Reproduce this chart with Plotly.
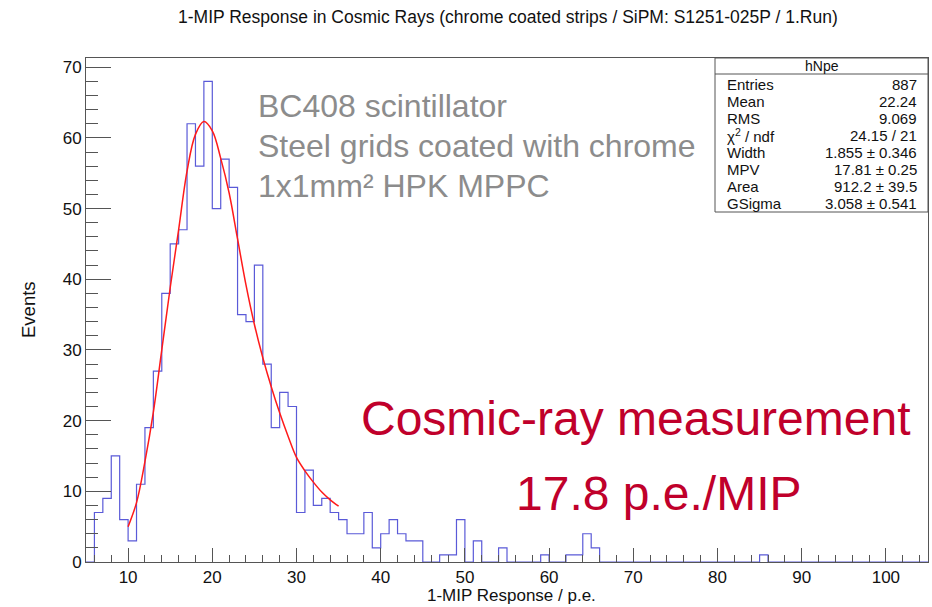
import plotly.graph_objects as go

# ---------------- data ----------------
bin_low_edge = 5
bin_width = 1
counts = [0, 7, 9, 15, 6, 3, 11, 19, 27, 38,
          45, 47, 62, 56, 68, 50, 57, 53, 35, 34,
          42, 28, 19, 24, 22, 7, 13, 8, 9, 7,
          6, 4, 4, 7, 2, 4, 6, 4, 3, 3,
          0, 0, 1, 1, 6, 0, 3, 0, 0, 2,
          0, 0, 0, 0, 1, 0, 0, 1, 1, 4,
          2, 0, 0, 0, 0, 0, 0, 0, 0, 0,
          0, 0, 0, 0, 0, 0, 0, 0, 0, 0,
          1, 0, 0, 0, 0, 0, 0, 0, 0, 0,
          0, 0, 0, 0, 0, 0, 0, 0, 0, 0]

fit_x = [10, 11, 12, 13, 14, 15, 16, 17, 18, 19, 20, 21, 22,
         23, 24, 25, 26, 27, 28, 29, 30, 31, 32, 33, 34, 35]
fit_y = [5.0, 8.4, 14.2, 21.2, 30.0, 38.8, 47.0, 55.3, 60.5, 62.3, 61.0, 57.1, 52.2,
         45.7, 39.2, 33.6, 28.9, 24.8, 21.1, 17.8, 14.8, 12.9, 11.3, 9.9, 8.8, 7.9]

x_ticks = [10, 20, 30, 40, 50, 60, 70, 80, 90, 100]
y_ticks = [0, 10, 20, 30, 40, 50, 60, 70]

stats_title = "hNpe"
stats_labels = ["Entries", "Mean", "RMS", "χ<sup>2</sup> / ndf", "Width", "MPV", "Area", "GSigma"]
stats_values = ["887", "22.24", "9.069", "24.15 / 21", "1.855 ± 0.346",
                "17.81 ± 0.25", "912.2 ± 39.5", "3.058 ± 0.541"]

title_text = "1-MIP Response in Cosmic Rays (chrome coated strips / SiPM: S1251-025P / 1.Run)"
info_lines = ["BC408 scintillator", "Steel grids coated with chrome", "1x1mm² HPK MPPC"]
red_lines = ["Cosmic-ray measurement", "17.8 p.e./MIP"]

# ---------------- layout geometry ----------------
W, H = 932, 607
L, R, T, B = 86, 4, 58, 45
PW, PH = W - L - R, H - T - B


def px(x):
    return (x - L) / PW


def py(y):
    return (H - B - y) / PH


edges = [bin_low_edge + i * bin_width for i in range(len(counts) + 1)]
step_y = counts + [counts[-1]]

FONT = "Liberation Sans, Arial, Helvetica, sans-serif"

fig = go.Figure()
fig.add_trace(go.Scatter(x=edges, y=step_y, mode="lines", line_shape="hv",
                         line=dict(color="#5a5ad8", width=1.2), hoverinfo="skip",
                         showlegend=False))
fig.add_trace(go.Scatter(x=fit_x, y=fit_y, mode="lines", line_shape="spline",
                         line=dict(color="#ff1a1a", width=1.5), hoverinfo="skip",
                         showlegend=False))

axis_common = dict(showgrid=False, zeroline=False, showline=True, linecolor="#555555",
                   linewidth=1, mirror=True, ticks="inside", tickcolor="#555555",
                   tickfont=dict(family=FONT, size=17, color="#111111"))

fig.update_xaxes(range=[5, 105], tickvals=x_ticks, ticklen=14, tickwidth=1,
                 minor=dict(dtick=2, ticklen=7, ticks="inside", tickcolor="#555555", tick0=0),
                 **axis_common)
fig.update_yaxes(range=[0, 71.3], tickvals=y_ticks, ticklen=25, tickwidth=1,
                 minor=dict(dtick=2, ticklen=12, ticks="inside", tickcolor="#555555", tick0=0),
                 **axis_common)

annotations = []
shapes = []

# title
annotations.append(dict(text=title_text, x=px(508), y=py(17), xref="paper", yref="paper",
                        showarrow=False, xanchor="center", yanchor="middle",
                        font=dict(family=FONT, size=17.5, color="#111111")))
# axis titles
annotations.append(dict(text="1-MIP Response / p.e.", x=px(598), y=py(595), xref="paper", yref="paper",
                        showarrow=False, xanchor="right", yanchor="middle",
                        font=dict(family=FONT, size=17, color="#111111")))
annotations.append(dict(text="Events", x=px(28), y=py(310), xref="paper", yref="paper",
                        showarrow=False, xanchor="center", yanchor="middle", textangle=-90,
                        font=dict(family=FONT, size=18.5, color="#111111")))

# gray info text
for i, t in enumerate(info_lines):
    annotations.append(dict(text=t, x=px(256), y=py(106 + 40 * i), xref="paper", yref="paper",
                            showarrow=False, xanchor="left", yanchor="middle",
                            font=dict(family=FONT, size=32, color="#8c8c8c")))

# red text
annotations.append(dict(text=red_lines[0], x=px(635), y=py(418), xref="paper", yref="paper",
                        showarrow=False, xanchor="center", yanchor="middle",
                        font=dict(family=FONT, size=48, color="#c0002b")))
annotations.append(dict(text=red_lines[1], x=px(659), y=py(493), xref="paper", yref="paper",
                        showarrow=False, xanchor="center", yanchor="middle",
                        font=dict(family=FONT, size=48, color="#c0002b")))

# stats box
bx0, bx1, by0, by1 = 715, 928, 58, 212
shapes.append(dict(type="rect", xref="paper", yref="paper", x0=px(bx0), x1=px(bx1),
                   y0=py(by1), y1=py(by0), line=dict(color="#555555", width=1),
                   fillcolor="white", layer="above"))
shapes.append(dict(type="line", xref="paper", yref="paper", x0=px(bx0), x1=px(bx1),
                   y0=py(74), y1=py(74), line=dict(color="#555555", width=1), layer="above"))
annotations.append(dict(text=stats_title, x=px((bx0 + bx1) / 2), y=py(66), xref="paper", yref="paper",
                        showarrow=False, xanchor="center", yanchor="middle",
                        font=dict(family=FONT, size=14, color="#111111")))
for i, (lab, val) in enumerate(zip(stats_labels, stats_values)):
    yy = 84 + 17 * i
    annotations.append(dict(text=lab, x=px(725), y=py(yy), xref="paper", yref="paper",
                            showarrow=False, xanchor="left", yanchor="middle",
                            font=dict(family=FONT, size=15, color="#111111")))
    annotations.append(dict(text=val, x=px(919), y=py(yy), xref="paper", yref="paper",
                            showarrow=False, xanchor="right", yanchor="middle",
                            font=dict(family=FONT, size=15, color="#111111")))

fig.update_layout(width=W, height=H, margin=dict(l=L, r=R, t=T, b=B),
                  paper_bgcolor="white", plot_bgcolor="white", hovermode=False,
                  annotations=annotations, shapes=shapes, showlegend=False)

fig.write_html("out.html", config={"displayModeBar": False, "staticPlot": True},
               post_script="document.body.style.margin='0';document.body.style.padding='0';")
